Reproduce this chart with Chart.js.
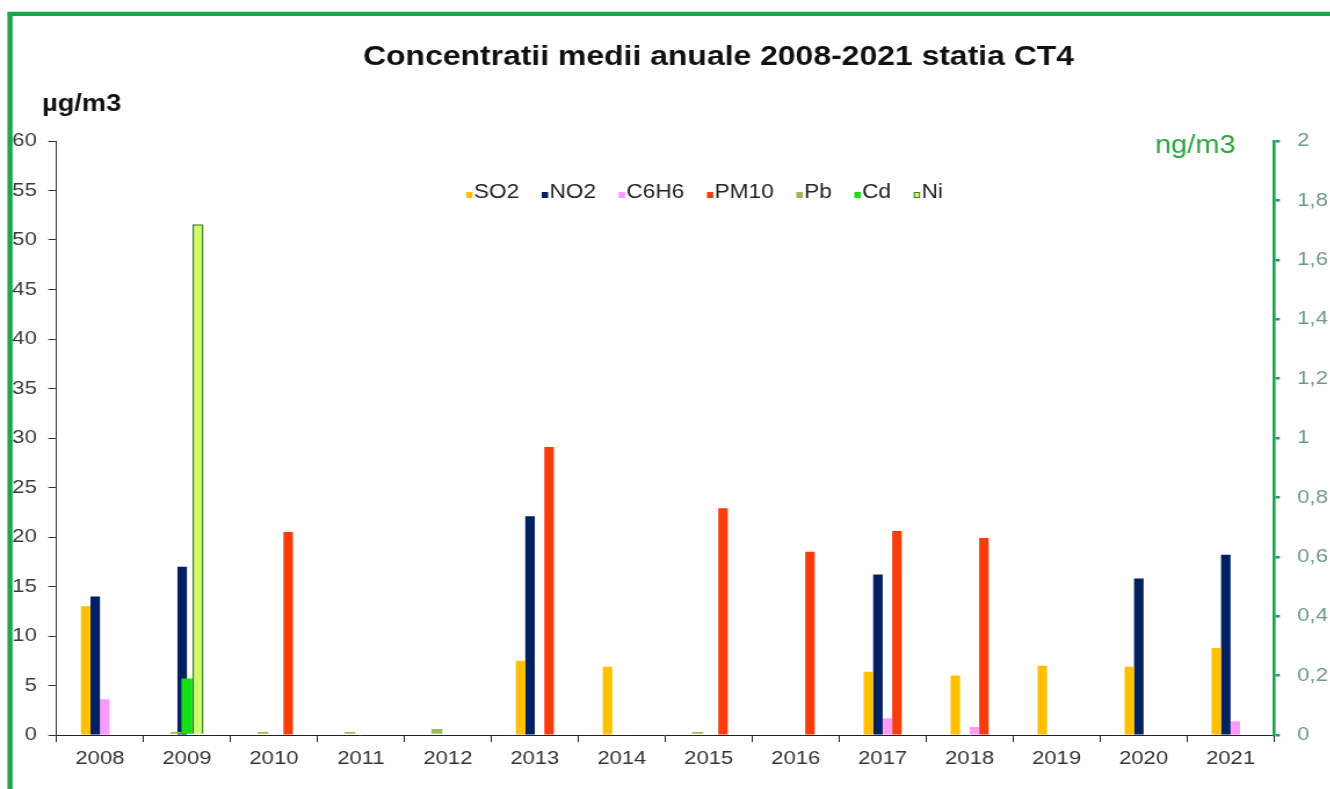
<!DOCTYPE html>
<html>
<head>
<meta charset="utf-8">
<script src="https://cdn.jsdelivr.net/npm/chart.js@4.4.0/dist/chart.umd.min.js"></script>
<style>
  html, body { margin: 0; padding: 0; background: #fff; overflow: hidden; }
  /* the chart is laid out narrower and widened horizontally */
  #wrap { width: 1147px; height: 789px; transform: scaleX(1.16); transform-origin: 0 0; }
</style>
</head>
<body>
<div id="wrap"><canvas id="chart"></canvas></div>
<script>
const years = ['2008', '2009', '2010', '2011', '2012', '2013', '2014', '2015', '2016', '2017', '2018', '2019', '2020', '2021'];

// µg/m3 (left axis)
const so2  = [13.0, null, null, null, null, 7.5, 6.9, null, null, 6.4, 6.0, 7.0, 6.9, 8.8];
const no2  = [14.0, 17.0, null, null, null, 22.1, null, null, null, 16.2, null, null, 15.8, 18.2];
const c6h6 = [3.6, null, null, null, null, null, null, null, null, 1.7, 0.8, null, null, 1.4];
const pm10 = [null, null, 20.5, null, null, 29.1, null, 22.9, 18.5, 20.6, 19.9, null, null, null];

// ng/m3 (right axis)
const pb = [null, 0.01, 0.01, 0.01, 0.02, null, null, 0.01, null, null, null, null, null, null];
const cd = [null, 0.19, null, null, null, null, null, null, null, null, null, null, null, null];
const ni = [null, 1.72, null, null, null, null, null, null, null, null, null, null, null, null];

const leftTicks = { min: 0, max: 60, step: 5 };
const rightTicks = { min: 0, max: 2, step: 0.2 };

const FONT = "'Liberation Sans', Arial, sans-serif";
Chart.defaults.font.family = FONT;

// bars of the right axis form their own group inside each year
class SecondaryBar extends Chart.BarController {}
SecondaryBar.id = 'secondaryBar';
SecondaryBar.defaults = Chart.BarController.defaults;
Chart.register(SecondaryBar);

const W = 1147;
const AXIS_LEFT = 48.7;
const AXIS_RIGHT = 1098.3;

function primary(label, data, color) {
    return { type: 'bar', label, data, backgroundColor: color, yAxisID: 'y', order: 1,
             categoryPercentage: 0.4375, barPercentage: 1 };
}
function secondary(label, data, color, border) {
    return { type: 'secondaryBar', label, data, backgroundColor: color, yAxisID: 'y1', order: 0,
             categoryPercentage: 0.38, barPercentage: 1,
             borderColor: border || color, borderWidth: border ? 1.5 : 0 };
}

// title, unit captions, legend and frame
const decor = {
    id: 'decor',
    afterDraw(chart) {
        const ctx = chart.ctx;
        ctx.save();
        ctx.textBaseline = 'alphabetic';

        ctx.fillStyle = '#111';
        ctx.font = 'bold 27.5px ' + FONT;
        ctx.textAlign = 'center';
        ctx.fillText('Concentratii medii anuale 2008-2021 statia CT4', 619.4, 65);

        ctx.textAlign = 'left';
        ctx.font = 'bold 23.5px ' + FONT;
        ctx.fillText('µg/m3', 36.2, 111);

        ctx.fillStyle = '#2fa544';
        ctx.font = '25px ' + FONT;
        ctx.fillText('ng/m3', 995.7, 153);

        // legend
        ctx.font = '19.5px ' + FONT;
        const sets = chart.data.datasets;
        const box = 5.5, gap = 1.2, space = 19.5;
        let total = 0;
        sets.forEach((d, i) => {
            total += box + gap + ctx.measureText(d.label).width + (i ? space : 0);
        });
        let x = 607.3 - total / 2;
        const base = 198;
        sets.forEach(d => {
            ctx.fillStyle = d.backgroundColor;
            ctx.fillRect(x, base - 6, box, 6);
            if (d.borderWidth) {
                ctx.strokeStyle = d.borderColor;
                ctx.lineWidth = 1;
                ctx.strokeRect(x + 0.5, base - 5.5, box - 1, 5);
            }
            x += box + gap;
            ctx.fillStyle = '#222';
            ctx.fillText(d.label, x, base);
            x += ctx.measureText(d.label).width + space;
        });

        // green frame
        ctx.strokeStyle = '#19a54a';
        ctx.lineWidth = 4.4;
        ctx.beginPath();
        ctx.moveTo(6.3, 13.9);
        ctx.lineTo(W, 13.9);
        ctx.moveTo(8.6, 11.7);
        ctx.lineTo(8.6, 789);
        ctx.stroke();
        ctx.restore();
    }
};

new Chart(document.getElementById('chart'), {
    type: 'bar',
    data: {
        labels: years,
        datasets: [
            primary('SO2', so2, '#FFC000'),
            primary('NO2', no2, '#002060'),
            primary('C6H6', c6h6, '#FF99FF'),
            primary('PM10', pm10, '#FA3C0A'),
            secondary('Pb', pb, '#9BBB59'),
            secondary('Cd', cd, '#12E012'),
            secondary('Ni', ni, '#CCFF66', '#3F7A2A')
        ]
    },
    options: {
        responsive: true,
        maintainAspectRatio: false,
        animation: false,
        layout: { padding: { top: 141, left: 0, right: 0, bottom: 0 } },
        plugins: {
            legend: { display: false },
            title: { display: false },
            tooltip: { enabled: false }
        },
        scales: {
            x: {
                type: 'category',
                offset: true,
                afterFit: s => { s.height = 54; },
                grid: { offset: true, drawOnChartArea: false, tickLength: 7, color: '#222', lineWidth: 1 },
                border: { color: '#222', width: 1 },
                ticks: { color: '#333', font: { size: 19 }, padding: 5, maxRotation: 0 }
            },
            y: {
                position: 'left',
                stacked: false,
                min: leftTicks.min,
                max: leftTicks.max,
                afterFit: s => { s.width = AXIS_LEFT; },
                grid: { drawOnChartArea: false, tickLength: 7, color: '#333', lineWidth: 1 },
                border: { color: '#333', width: 1 },
                ticks: { stepSize: leftTicks.step, color: '#3c3c3c', font: { size: 19 }, padding: 10 }
            },
            y1: {
                position: 'right',
                stacked: false,
                min: rightTicks.min,
                max: rightTicks.max,
                afterFit: s => { s.width = W - AXIS_RIGHT; },
                grid: { drawOnChartArea: false, tickLength: 5, color: '#1e9e55', lineWidth: 2.5 },
                border: { color: '#1e9e55', width: 2.6 },
                ticks: {
                    stepSize: rightTicks.step,
                    color: '#6e9a80',
                    font: { size: 19 },
                    padding: 15,
                    callback: v => String(Math.round(v * 10) / 10).replace('.', ',')
                }
            }
        }
    },
    plugins: [decor]
});
</script>
</body>
</html>
